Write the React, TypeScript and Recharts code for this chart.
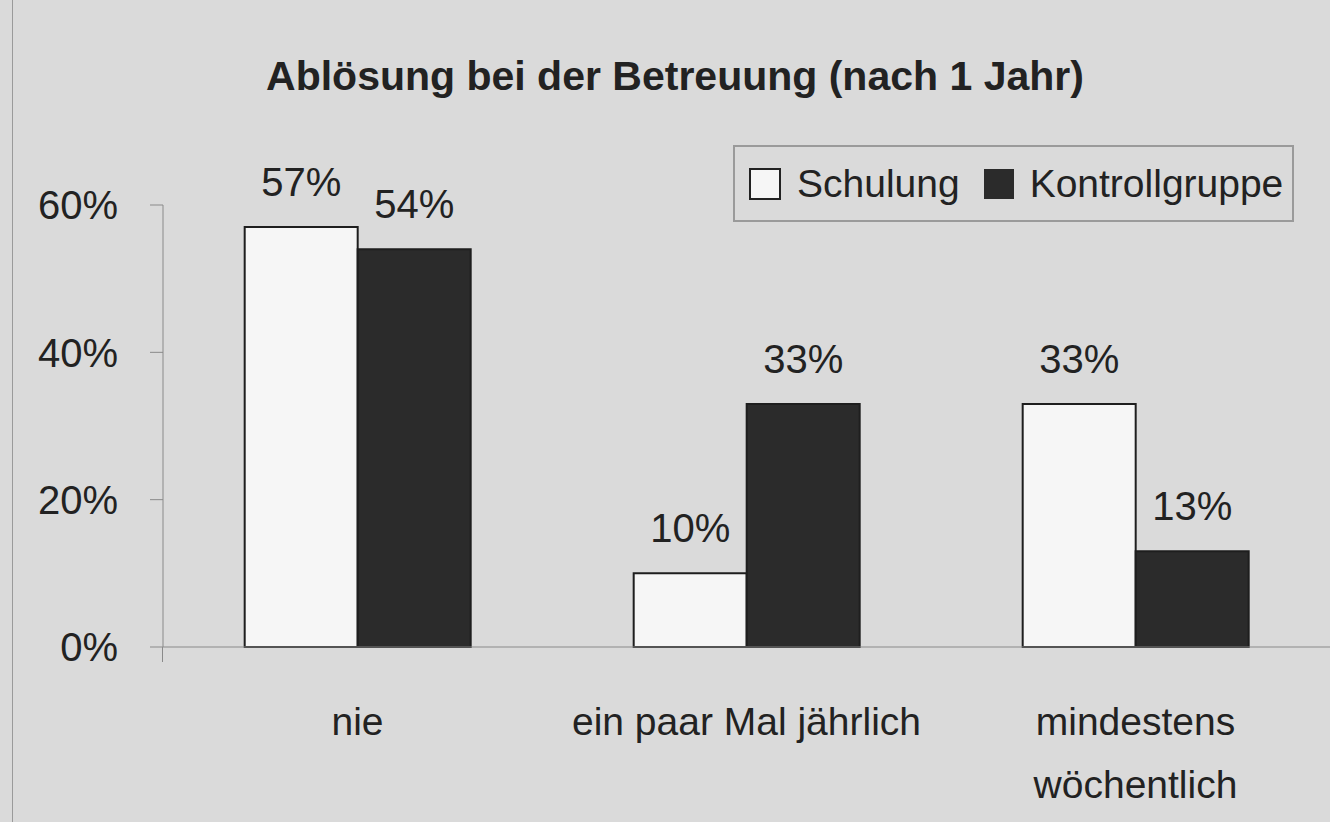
import { Bar, BarChart, LabelList, XAxis, YAxis } from 'recharts';

const categories = ['nie', 'ein paar Mal jährlich', 'mindestens\nwöchentlich'];
const schulung = [57, 10, 33];
const kontrollgruppe = [54, 33, 13];
const yTicks = [0, 20, 40, 60];

const data = categories.map((name, i) => ({
  name,
  schulung: schulung[i],
  kontrollgruppe: kontrollgruppe[i],
}));

const font = '"Liberation Sans", Arial, sans-serif';

const CategoryTick = (props: any) => {
  const { x, y, payload } = props;
  const lines = String(payload.value).split('\n');
  return (
    <text x={x} y={y + 80} textAnchor="middle" fontSize={39} fill="#222" fontFamily={font}>
      {lines.map((line, i) => (
        <tspan key={i} x={x} dy={i === 0 ? 0 : 63}>
          {line}
        </tspan>
      ))}
    </text>
  );
};

// legend is plain html so it does not push the plot area down
const LegendBox = () => (
  <div
    style={{
      position: 'absolute',
      left: 733,
      top: 145,
      border: '2px solid #9a9a9a',
      width: 557,
      height: 73,
      display: 'flex',
      alignItems: 'center',
      fontFamily: font,
      fontSize: 39,
      color: '#222',
      boxSizing: 'content-box',
    }}
  >
    <span style={{ width: 28, height: 28, border: '2px solid #222', background: '#f6f6f6', marginLeft: 14, marginRight: 16 }} />
    <span>Schulung</span>
    <span style={{ width: 30, height: 30, background: '#2b2b2b', marginLeft: 24, marginRight: 16 }} />
    <span>Kontrollgruppe</span>
  </div>
);

export default function App() {
  return (
    <div style={{ position: 'absolute', left: 0, top: 0, width: 1330, height: 822, background: '#dadada', overflow: 'hidden' }}>
      <div style={{ position: 'absolute', left: 12, top: 0, width: 1, height: 822, background: '#9a9a9a' }} />
      <div
        style={{
          position: 'absolute',
          left: 0,
          width: 1350,
          top: 53,
          textAlign: 'center',
          fontFamily: font,
          fontWeight: 'bold',
          fontSize: 41,
          color: '#222',
        }}
      >
        Ablösung bei der Betreuung (nach 1 Jahr)
      </div>
      <LegendBox />
      {/* y axis runs a little below the baseline */}
      <div style={{ position: 'absolute', left: 162, top: 647, width: 1, height: 15, background: '#8a8a8a' }} />
      <div style={{ position: 'absolute', left: 0, top: 0 }}>
        <BarChart
          width={1330}
          height={822}
          data={data}
          margin={{ top: 205, right: 0, bottom: 0, left: 0 }}
          barGap={0}
          barCategoryGap="21%"
        >
          <XAxis
            dataKey="name"
            height={175}
            axisLine={{ stroke: '#8a8a8a', strokeWidth: 1 }}
            tickLine={false}
            tick={<CategoryTick />}
            interval={0}
          />
          <YAxis
            width={163}
            domain={[0, 60]}
            ticks={yTicks}
            tickFormatter={(v) => `${v}%`}
            axisLine={{ stroke: '#8a8a8a', strokeWidth: 1 }}
            tickLine={{ stroke: '#8a8a8a' }}
            tickSize={13}
            tickMargin={32}
            tick={{ fontSize: 40, fill: '#222', fontFamily: font }}
          />
          <Bar dataKey="schulung" fill="#f6f6f6" stroke="#1e1e1e" strokeWidth={2} isAnimationActive={false}>
            <LabelList dataKey="schulung" position="top" offset={31} formatter={(v: any) => `${v}%`} fontSize={40} fill="#222" fontFamily={font} />
          </Bar>
          <Bar dataKey="kontrollgruppe" fill="#2b2b2b" stroke="#1e1e1e" strokeWidth={2} isAnimationActive={false}>
            <LabelList dataKey="kontrollgruppe" position="top" offset={31} formatter={(v: any) => `${v}%`} fontSize={40} fill="#222" fontFamily={font} />
          </Bar>
        </BarChart>
      </div>
    </div>
  );
}
